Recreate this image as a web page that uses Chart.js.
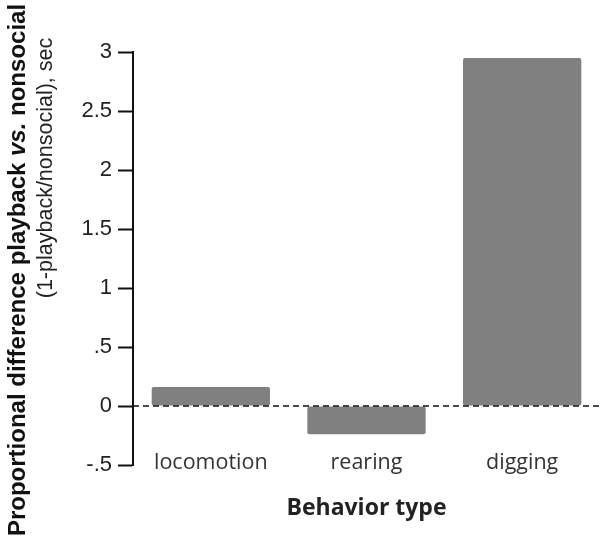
<!DOCTYPE html>
<html>
<head>
<meta charset="utf-8">
<script src="https://cdn.jsdelivr.net/npm/chart.js@4"></script>
<style>
  body { margin: 0; background: #fff; }
  #wrap { width: 600px; height: 541px; }
</style>
</head>
<body>
<div id="wrap"><canvas id="behaviorChart"></canvas></div>
<script>
// data
var categories = ["locomotion", "rearing", "digging"];
var propDiff = [0.16, -0.24, 2.95];
var yTicks = [-0.5, 0, 0.5, 1, 1.5, 2, 2.5, 3];

// label like the original: ".5" and "-.5", no leading zero
function tickLabel(v) {
  if (v === 0) return "0";
  return String(v).replace(/^(-?)0\./, "$1.");
}

// dashed line on zero, drawn over the bars
var zeroLinePlugin = {
  id: "zeroLine",
  afterDatasetsDraw: function (chart) {
    var ctx = chart.ctx;
    var y = chart.scales.y.getPixelForValue(0);
    ctx.save();
    ctx.strokeStyle = "#111";
    ctx.lineWidth = 1.5;
    ctx.setLineDash([6, 4]);
    ctx.beginPath();
    ctx.moveTo(chart.chartArea.left, y);
    ctx.lineTo(chart.width, y);
    ctx.stroke();
    ctx.restore();
  }
};

// category names sit level with the -.5 tick, which the axis would clip
var catLabelPlugin = {
  id: "catLabels",
  afterDraw: function (chart) {
    var ctx = chart.ctx;
    var xs = chart.scales.x;
    ctx.save();
    ctx.fillStyle = "#333";
    ctx.font = "21.5px 'Open Sans', Lato, sans-serif";
    ctx.textAlign = "center";
    ctx.textBaseline = "alphabetic";
    categories.forEach(function (c, i) {
      ctx.fillText(c, xs.getPixelForTick(i), 469);
    });
    ctx.restore();
  }
};

// y title in two lines, first one bold with italic "vs."
var yTitlePlugin = {
  id: "yTitle",
  afterDraw: function (chart) {
    var ctx = chart.ctx;
    ctx.save();
    ctx.fillStyle = "#111";
    ctx.textBaseline = "middle";
    // line 1
    ctx.translate(18, 270);
    ctx.rotate(-Math.PI / 2);
    var parts = [
      ["Proportional difference playback ", "bold 24px 'Liberation Sans', Arial"],
      ["vs.", "italic bold 24px 'Liberation Sans', Arial"],
      [" nonsocial", "bold 24px 'Liberation Sans', Arial"]
    ];
    var total = 0;
    parts.forEach(function (p) {
      ctx.font = p[1];
      total += ctx.measureText(p[0]).width;
    });
    var x = -total / 2;
    ctx.textAlign = "left";
    parts.forEach(function (p) {
      ctx.font = p[1];
      ctx.fillText(p[0], x, 0);
      x += ctx.measureText(p[0]).width;
    });
    ctx.restore();
    // line 2
    ctx.save();
    ctx.fillStyle = "#222";
    ctx.textBaseline = "middle";
    ctx.textAlign = "center";
    ctx.translate(46, 168);
    ctx.rotate(-Math.PI / 2);
    ctx.font = "21.5px 'Liberation Sans', Arial";
    ctx.fillText("(1-playback/nonsocial), sec", 0, 0);
    ctx.restore();
  }
};

var chartEl = document.getElementById("behaviorChart");
var behaviorChart = new Chart(chartEl, {
  type: "bar",
  data: {
    labels: categories,
    datasets: [
      {
        data: propDiff,
        backgroundColor: "#808080",
        borderRadius: 2,
        borderSkipped: false,
        barPercentage: 0.76,
        categoryPercentage: 1
      }
    ]
  },
  options: {
    responsive: true,
    maintainAspectRatio: false,
    animation: false,
    layout: { padding: { top: 52, right: 0, left: 0, bottom: 0 } },
    plugins: {
      legend: { display: false },
      tooltip: { enabled: false }
    },
    scales: {
      x: {
        grid: { display: false },
        border: { display: false },
        ticks: { display: false },
        title: {
          display: true,
          text: "Behavior type",
          color: "#222",
          font: { family: "'Open Sans', Lato, sans-serif", size: 23, weight: "bold" },
          padding: { top: 0, bottom: 19 }
        },
        afterFit: function (scale) {
          scale.height = 541 - 465;
        }
      },
      y: {
        min: -0.5,
        max: 3,
        afterBuildTicks: function (scale) {
          scale.ticks = yTicks.map(function (v) { return { value: v }; });
        },
        afterFit: function (scale) {
          scale.width = 133;
        },
        grid: {
          drawOnChartArea: false,
          drawTicks: true,
          tickLength: 15,
          tickColor: "#111",
          tickWidth: 2
        },
        border: { display: true, color: "#111", width: 2 },
        ticks: {
          padding: 6,
          color: "#222",
          font: { family: "'Liberation Sans', Arial, sans-serif", size: 22 },
          callback: function (v) { return tickLabel(v); }
        }
      }
    }
  },
  plugins: [zeroLinePlugin, catLabelPlugin, yTitlePlugin]
});
</script>
</body>
</html>
